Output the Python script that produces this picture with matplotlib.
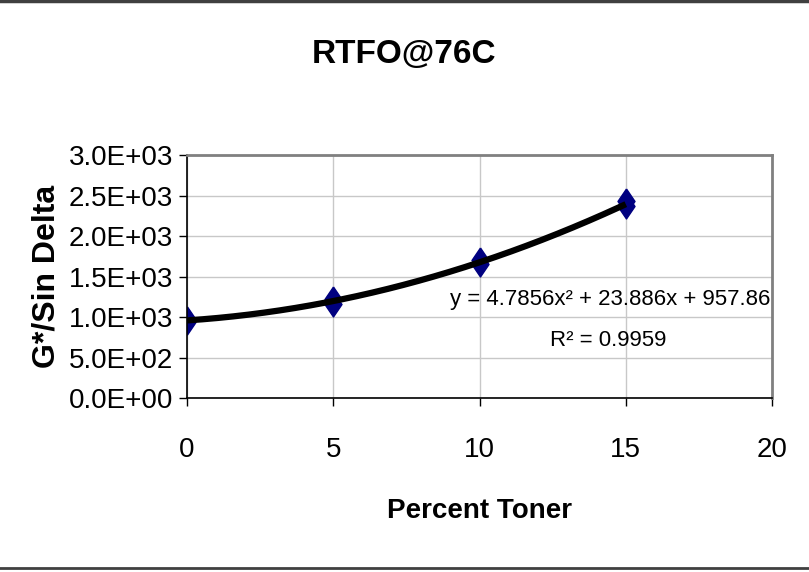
import numpy as np
import matplotlib.pyplot as plt
from matplotlib.lines import Line2D

plt.rcParams['font.family'] = ['Liberation Sans', 'DejaVu Sans']

# data (two replicates per toner level)
toner = [0, 0, 5, 5, 10, 10, 15, 15]
g_sin_delta = [940, 975, 1160, 1225, 1660, 1705, 2365, 2430]

# trendline from the equation printed on the chart
coef = [4.7856, 23.886, 957.86]
r2 = 0.9959

xticks = [0, 5, 10, 15, 20]
yticks = [0, 500, 1000, 1500, 2000, 2500, 3000]

# diamond a bit wider than matplotlib's thin diamond
diamond = [(0, 1), (0.68, 0), (0, -1), (-0.68, 0), (0, 1)]

fig = plt.figure(figsize=(8.09, 5.72), dpi=100)
ax = fig.add_axes([0.2312, 0.3042, 0.9543 - 0.2312, 0.729 - 0.3042])

xs = np.linspace(0, 15, 200)
ax.plot(xs, np.polyval(coef, xs), color='black', lw=4.5, zorder=3, solid_capstyle='butt')
ax.plot(toner, g_sin_delta, ls='none', marker=diamond, ms=18, color='#000080', zorder=2)

ax.set_xlim(0, 20)
ax.set_ylim(0, 3000)
ax.set_xticks(xticks)
ax.set_yticks(yticks)
ax.set_yticklabels(['%.1E' % v for v in yticks])
ax.tick_params(labelsize=20, length=6, direction='out', width=1, pad=4)
ax.tick_params(axis='x', pad=22)
ax.grid(True, color='#c8c8c8', lw=1)
ax.set_axisbelow(True)

for s in ['left', 'bottom']:
    ax.spines[s].set_color('black')
    ax.spines[s].set_linewidth(1.2)
for s in ['top', 'right']:
    ax.spines[s].set_color('#808080')
    ax.spines[s].set_linewidth(2)

fig.text(0.5, 0.905, 'RTFO@76C', fontsize=24, fontweight='bold', ha='center', va='center')
ax.set_xlabel('Percent Toner', fontsize=20, fontweight='bold', labelpad=25)
ax.set_ylabel('G*/Sin Delta', fontsize=23, fontweight='bold', labelpad=5)

eq = 'y = %.4fx² + %.3fx + %.2f' % tuple(coef)
ax.text(19.95, 1210, eq, fontsize=16, ha='right', va='center')
ax.text(14.4, 716, 'R² = %.4f' % r2, fontsize=16, ha='center', va='center')

fig.add_artist(Line2D([0, 1], [0.998, 0.998], color='#404040', lw=2.5, transform=fig.transFigure))
fig.add_artist(Line2D([0, 1], [0.007, 0.007], color='#404040', lw=2, transform=fig.transFigure))

fig.savefig('out.png', dpi=100)
